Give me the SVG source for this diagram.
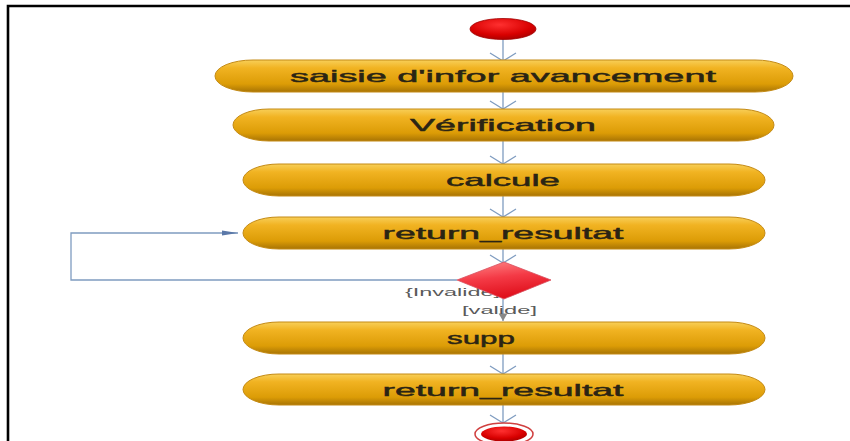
<svg xmlns="http://www.w3.org/2000/svg" width="850" height="441" viewBox="0 0 850 441">
  <style>
    .act { fill: url(#actFill); stroke: #c48a14; stroke-width: 1; }
    .lbl { font-family: "Liberation Sans", Arial, sans-serif; font-size: 17px; fill: #2a2414; stroke: #2a2414; stroke-width: 0.45; text-anchor: middle; }
    .guard { font-family: "Liberation Sans", Arial, sans-serif; font-size: 11px; fill: #5a5a5a; }
    .flow { fill: none; stroke: #7f9cc0; stroke-width: 1.3; }
  </style>
  <defs>
    <linearGradient id="actFill" x1="0" y1="0" x2="0" y2="1">
      <stop offset="0" stop-color="#f8cf58"/>
      <stop offset="0.25" stop-color="#f1b322"/>
      <stop offset="0.75" stop-color="#dc9c06"/>
      <stop offset="1" stop-color="#a87404"/>
    </linearGradient>
    <radialGradient id="redFill" cx="0.45" cy="0.3" r="0.8">
      <stop offset="0" stop-color="#ff3030"/>
      <stop offset="0.6" stop-color="#d80000"/>
      <stop offset="1" stop-color="#9a0000"/>
    </radialGradient>
    <linearGradient id="diaFill" x1="0" y1="0" x2="0.3" y2="1">
      <stop offset="0" stop-color="#ff8a8a"/>
      <stop offset="0.5" stop-color="#f43a46"/>
      <stop offset="1" stop-color="#e0101c"/>
    </linearGradient>
    <marker id="openHead" markerUnits="userSpaceOnUse" markerWidth="30" markerHeight="30" viewBox="-10 -15 12 30" refX="0" refY="0" orient="auto">
      <path d="M-8,-13 L0,0 L-8,13" fill="none" stroke="#7f9cc0" stroke-width="1.3"/>
    </marker>
    <marker id="solidHead" markerUnits="userSpaceOnUse" markerWidth="20" markerHeight="10" viewBox="-16 -5 17 10" refX="0" refY="0" orient="auto">
      <path d="M-16,-2.5 L0,0 L-16,2.5 Z" fill="#5a78a8"/>
    </marker>
    <marker id="smallHead" markerUnits="userSpaceOnUse" markerWidth="10" markerHeight="10" viewBox="-6 -4 7 8" refX="0" refY="0" orient="auto">
      <path d="M-6,-3.5 L0,0 L-6,3.5 Z" fill="#888888"/>
    </marker>
  </defs>

  <rect width="850" height="441" fill="#ffffff"/>

  <!-- frame -->
  <path d="M8,441 L8,6 L850,6" fill="none" stroke="#000000" stroke-width="2.6"/>

  <!-- connectors -->
  <g id="connectors">
    <path class="flow" d="M503,39 L503,61" marker-end="url(#openHead)"/>
    <path class="flow" d="M503,92 L503,109" marker-end="url(#openHead)"/>
    <path class="flow" d="M503,141 L503,164" marker-end="url(#openHead)"/>
    <path class="flow" d="M503,196 L503,217" marker-end="url(#openHead)"/>
    <path class="flow" d="M503,249 L503,263" marker-end="url(#openHead)"/>
    <path class="flow" d="M457,280 L71,280 L71,233 L238,233" stroke="#7a94b8" marker-end="url(#solidHead)"/>
    <path class="flow" d="M503,299 L503,321" stroke="#999999" marker-end="url(#smallHead)"/>
    <path class="flow" d="M503,354 L503,374" marker-end="url(#openHead)"/>
    <path class="flow" d="M503,405 L503,423" marker-end="url(#openHead)"/>
    <text class="guard" x="405" y="296" textLength="95" lengthAdjust="spacingAndGlyphs">{Invalide]</text>
    <text class="guard" x="462" y="314" textLength="75" lengthAdjust="spacingAndGlyphs">[valide]</text>
  </g>

  <!-- start -->
  <g id="start">
    <ellipse cx="503" cy="29" rx="33" ry="10.5" fill="url(#redFill)" stroke="#a00000" stroke-width="0.8"/>
  </g>

  <g id="saisie">
    <rect class="act" x="215" y="60" width="578" height="32" rx="38" ry="16"/>
    <text class="lbl" x="503" y="82" textLength="426" lengthAdjust="spacingAndGlyphs">saisie d'infor avancement</text>
  </g>

  <g id="verification">
    <rect class="act" x="233" y="109" width="541" height="32" rx="36" ry="16"/>
    <text class="lbl" x="503" y="131" textLength="186" lengthAdjust="spacingAndGlyphs">Vérification</text>
  </g>

  <g id="calcule">
    <rect class="act" x="243" y="164" width="522" height="32" rx="36" ry="16"/>
    <text class="lbl" x="503" y="186" textLength="114" lengthAdjust="spacingAndGlyphs">calcule</text>
  </g>

  <g id="return1">
    <rect class="act" x="243" y="217" width="522" height="32" rx="36" ry="16"/>
    <text class="lbl" x="503" y="239" textLength="241" lengthAdjust="spacingAndGlyphs">return_resultat</text>
  </g>

  <g id="decision">
    <path d="M504,262 L551,280 L504,299 L457,280 Z" fill="url(#diaFill)" stroke="#d85060" stroke-width="0.8"/>
  </g>

  <g id="supp">
    <rect class="act" x="243" y="322" width="522" height="32" rx="36" ry="16"/>
    <text class="lbl" x="481" y="344" textLength="68" lengthAdjust="spacingAndGlyphs">supp</text>
  </g>

  <g id="return2">
    <rect class="act" x="243" y="374" width="522" height="31" rx="36" ry="15.5"/>
    <text class="lbl" x="503" y="396" textLength="241" lengthAdjust="spacingAndGlyphs">return_resultat</text>
  </g>

  <!-- end -->
  <g id="end">
    <ellipse cx="504" cy="434" rx="29" ry="11" fill="#ffffff" stroke="#d04040" stroke-width="1.5"/>
    <ellipse cx="504" cy="434" rx="23" ry="7.5" fill="url(#redFill)"/>
  </g>
</svg>
